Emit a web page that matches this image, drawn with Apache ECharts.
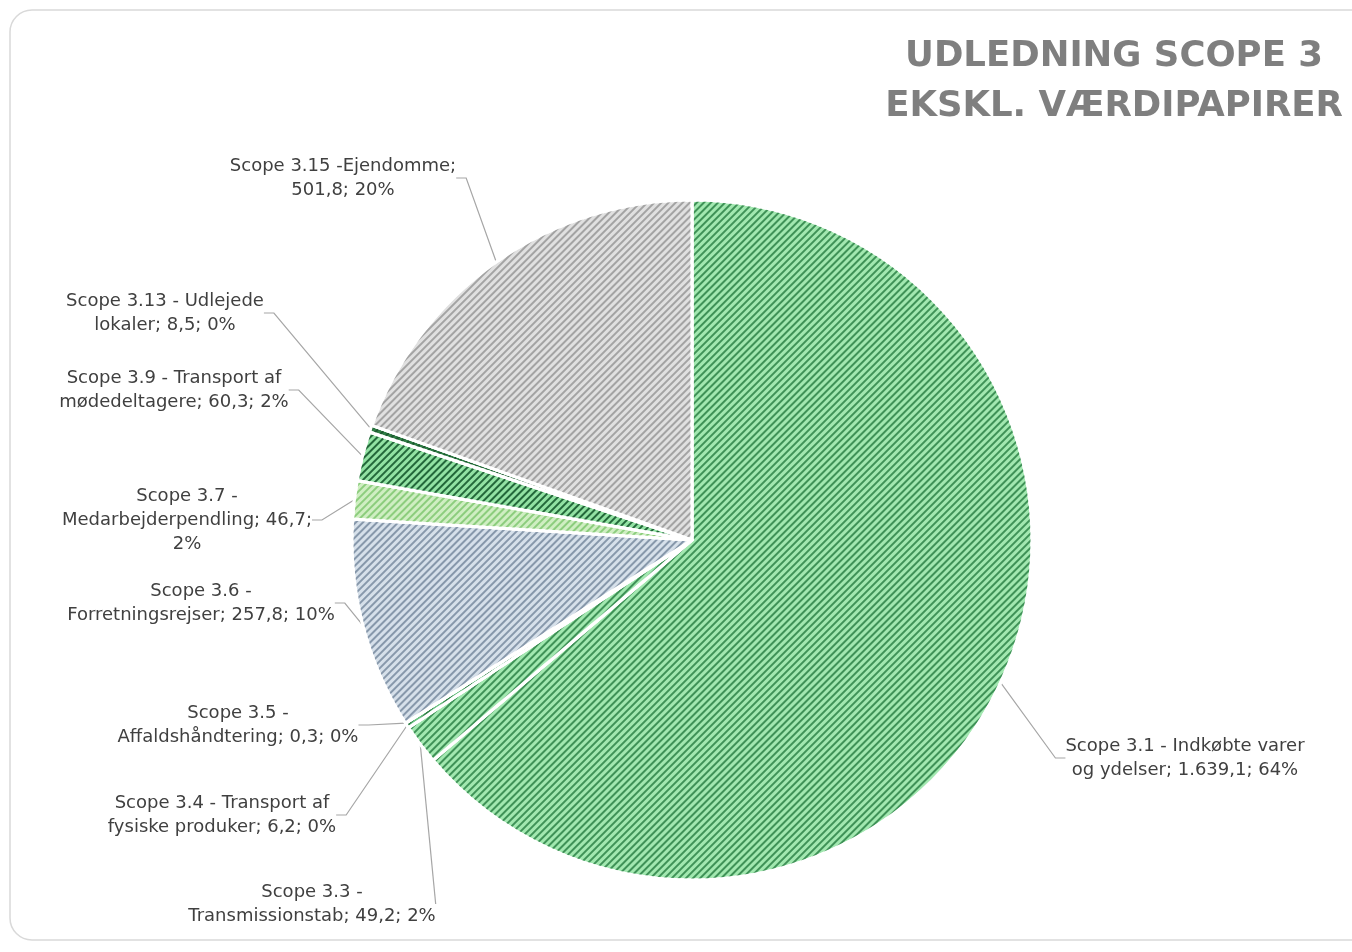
<!DOCTYPE html>
<html>
<head>
<meta charset="utf-8">
<script src="https://cdn.jsdelivr.net/npm/echarts@6/dist/echarts.min.js"></script>
<style>
html,body{margin:0;padding:0;background:#fff;}
#chart{width:1352px;height:952px;}
</style>
</head>
<body>
<div id="chart"></div>
<script>
// ---- data ----
const categories = [
  "Scope 3.1 - Indkøbte varer og ydelser",
  "Scope 3.3 - Transmissionstab",
  "Scope 3.4 - Transport af fysiske produker",
  "Scope 3.5 - Affaldshåndtering",
  "Scope 3.6 - Forretningsrejser",
  "Scope 3.7 - Medarbejderpendling",
  "Scope 3.9 - Transport af mødedeltagere",
  "Scope 3.13 - Udlejede lokaler",
  "Scope 3.15 -Ejendomme"
];
const values = [1639.1, 49.2, 6.2, 0.3, 257.8, 46.7, 60.3, 8.5, 501.8];
const titleText = "UDLEDNING SCOPE 3\nEKSKL. VÆRDIPAPIRER";

// ---- styles / layout ----
const baseColors   = ["#a2e8b0", "#a2e8b0", "#6cc383", "#6cc383", "#d6e0ea", "#cfeec2", "#92e2a3", "#2f7d45", "#e0e0e0"];
const stripeColors = ["#3f9257", "#3f9257", "#2f7d45", "#2f7d45", "#8798ab", "#8ccd7d", "#23683a", "#1c5a2f", "#a3a3a3"];
const labelBreaks  = [[5], [3], [5], [3], [3], [3, 5], [5], [4], [3]];
const labelPos = [[1185, 758], [312, 904], [222, 815], [238, 725], [201, 603], [187, 520], [174, 390], [165, 313], [343, 178]];

function fmtDa(v) {
  const s = v.toFixed(1).split('.');
  const int = s[0].replace(/\B(?=(\d{3})+(?!\d))/g, '.');
  return int + ',' + s[1];
}
function wrap(text, breaks) {
  const w = text.split(' ');
  let out = '';
  w.forEach((word, i) => {
    out += word;
    if (i < w.length - 1) out += breaks.indexOf(i + 1) >= 0 ? '\n' : ' ';
  });
  return out;
}

const chart = echarts.init(document.getElementById('chart'), null, {renderer: 'canvas'});
const data = categories.map((n, i) => ({
  name: n,
  value: values[i],
  itemStyle: {
    color: baseColors[i],
    decal: {
      symbol: 'rect',
      symbolSize: 1,
      color: stripeColors[i],
      dashArrayX: [1, 0],
      dashArrayY: [2, 2.5],
      rotation: -Math.PI / 4
    }
  }
}));

chart.setOption({
  animation: false,
  aria: {enabled: true, decal: {show: true}},
  title: {
    text: titleText,
    left: 1109,
    top: 27,
    textAlign: 'center',
    textStyle: {
      fontFamily: 'DejaVu Sans',
      fontWeight: 'bold',
      fontSize: 35.5,
      lineHeight: 50,
      color: '#7f7f7f',
      align: 'center'
    }
  },
  graphic: [{
    type: 'rect',
    shape: {x: 10, y: 10, width: 1400, height: 930, r: 22},
    style: {fill: 'none', stroke: '#d9d9d9', lineWidth: 1.5},
    silent: true,
    z: -10
  }],
  series: [{
    type: 'pie',
    center: [692, 540],
    radius: [0, 340],
    startAngle: 90,
    clockwise: true,
    percentPrecision: 0,
    avoidLabelOverlap: false,
    data: data,
    itemStyle: {borderColor: '#ffffff', borderWidth: 3},
    label: {
      show: true,
      position: 'outside',
      fontFamily: 'DejaVu Sans',
      fontSize: 18,
      lineHeight: 24,
      color: '#404040',
      align: 'center',
      formatter: function (p) {
        const t = p.name + '; ' + fmtDa(p.value) + '; ' + p.percent + '%';
        return wrap(t, labelBreaks[p.dataIndex]);
      }
    },
    labelLine: {
      show: true,
      length: 10,
      length2: 10,
      lineStyle: {color: '#a6a6a6', width: 1.2}
    },
    labelLayout: function (params) {
      const p = labelPos[params.dataIndex];
      return {x: p[0], y: p[1], align: 'center', verticalAlign: 'middle'};
    }
  }]
});
</script>
</body>
</html>
